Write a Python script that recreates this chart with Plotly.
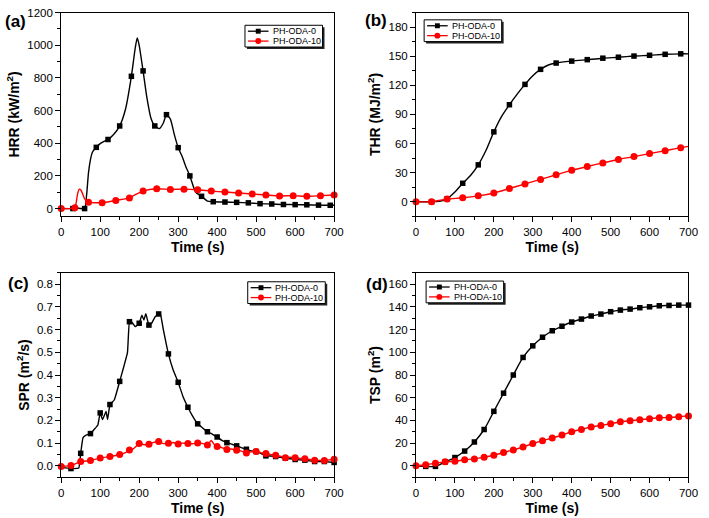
import plotly.graph_objects as go

# ---------------- data ----------------
# (a) Heat release rate, kW/m2
hrr0_t = [0, 30, 45, 60, 65, 70, 75, 80, 90, 100, 110, 120, 135, 150, 165, 180, 190, 195, 200, 210,
          220, 230, 240, 252, 262, 270, 280, 290, 300, 310, 320, 330, 345, 360, 375, 390, 420, 450,
          480, 510, 540, 570, 600, 630, 660, 690, 700]
hrr0_v = [0, 0, 2, 0, 80, 220, 300, 345, 375, 398, 412, 423, 455, 506, 610, 810, 985, 1045, 1000, 843,
          676, 555, 506, 490, 524, 575, 548, 454, 373, 320, 255, 200, 100, 75, 46, 42, 40, 38,
          35, 30, 28, 25, 24, 23, 21, 20, 20]
hrr10_t = [0, 35, 38, 42, 46, 50, 55, 60, 65, 70, 105, 140, 160, 175, 190, 210, 245, 280, 315, 350,
           385, 420, 455, 490, 525, 560, 595, 630, 665, 700]
hrr10_v = [0, 5, 30, 90, 118, 115, 90, 60, 45, 38, 36, 50, 58, 65, 85, 107, 121, 117, 119, 115,
           107, 101, 95, 89, 83, 77, 79, 75, 79, 83]

# (b) Total heat release, MJ/m2
thr0_t = [0, 40, 60, 80, 100, 120, 140, 160, 180, 200, 220, 240, 260, 280, 300, 320, 340, 360, 400,
          440, 480, 520, 560, 600, 640, 680, 700]
thr0_v = [0, 0, 0.5, 3, 10, 19, 27, 38, 53, 72, 88, 100, 111, 121, 130, 136.5, 141, 143, 145,
          146.5, 148, 149, 150.2, 151, 152, 152.5, 152.5]
thr10_t = [0, 40, 80, 120, 160, 200, 240, 280, 320, 360, 400, 440, 480, 520, 560, 600, 640, 680, 700]
thr10_v = [0, 0, 2.7, 4, 6, 9, 13.6, 18.3, 23, 27.8, 32.3, 36.3, 40, 43.5, 46.5, 49.6, 52.6, 55.7, 57]

# (c) Smoke production rate, m2/s
spr0_t = [0, 25, 45, 50, 56, 65, 75, 86, 94, 100, 106, 115, 119, 125, 136, 150, 161, 170, 175, 180,
          190, 200, 207, 212, 217, 225, 232, 241, 250, 255, 262, 275, 287, 300, 312, 325, 337, 350,
          362, 375, 388, 400, 412, 425, 438, 450, 462, 475, 487, 500, 512, 525, 537, 550, 562, 575,
          587, 600, 612, 625, 637, 650, 662, 675, 687, 700]
spr0_v = [-0.007, -0.012, -0.010, 0.055, 0.124, 0.136, 0.142, 0.163, 0.180, 0.233, 0.204, 0.240,
          0.204, 0.270, 0.290, 0.372, 0.440, 0.500, 0.635, 0.635, 0.613, 0.628, 0.664, 0.642, 0.670,
          0.620, 0.628, 0.657, 0.669, 0.664, 0.600, 0.493, 0.423, 0.368, 0.307, 0.258, 0.219, 0.185,
          0.168, 0.150, 0.139, 0.127, 0.112, 0.102, 0.095, 0.088, 0.080, 0.073, 0.066, 0.063, 0.055,
          0.044, 0.043, 0.041, 0.037, 0.034, 0.031, 0.028, 0.026, 0.025, 0.022, 0.019, 0.019, 0.019,
          0.017, 0.015]
spr10_t = [0, 25, 50, 75, 100, 125, 150, 165, 175, 185, 200, 212, 225, 237, 250, 262, 275, 287, 300,
           312, 325, 337, 350, 362, 375, 385, 392, 400, 412, 425, 437, 450, 462, 475, 487, 500, 512,
           525, 537, 550, 562, 575, 587, 600, 612, 625, 637, 650, 662, 675, 687, 700]
spr10_v = [-0.003, 0.001, 0.019, 0.023, 0.034, 0.041, 0.050, 0.058, 0.070, 0.075, 0.098, 0.093,
           0.095, 0.103, 0.107, 0.098, 0.099, 0.103, 0.096, 0.100, 0.098, 0.097, 0.101, 0.099, 0.092,
           0.112, 0.095, 0.085, 0.080, 0.072, 0.074, 0.069, 0.065, 0.057, 0.062, 0.063, 0.058, 0.054,
           0.050, 0.047, 0.042, 0.036, 0.038, 0.036, 0.033, 0.031, 0.028, 0.025, 0.024, 0.023, 0.026,
           0.029]

# (d) Total smoke production, m2
tsp_t = [0, 25, 50, 75, 100, 125, 150, 175, 200, 225, 250, 275, 300, 325, 350, 375, 400, 425, 450,
         475, 500, 525, 550, 575, 600, 625, 650, 675, 700]
tsp0_v = [0, -0.5, -0.5, 3.5, 7.3, 13, 21, 32, 48, 64, 80, 95.5, 105.7, 113.3, 119, 123, 126.7,
          129.3, 132, 133.7, 135.8, 137.2, 138.1, 139.3, 140.1, 141, 141.3, 141.6, 141.6]
tsp10_v = [0, 0.9, 2.3, 3.5, 4.1, 5.3, 6.1, 7.6, 9.3, 11.7, 14, 16.6, 19.6, 22.2, 24.5, 27.2, 30,
           32.1, 34.2, 35.6, 37.1, 38.8, 39.7, 40.6, 41.5, 42.3, 42.6, 43.2, 44]

series_names = ["PH-ODA-0", "PH-ODA-10"]
panel_labels = ["(a)", "(b)", "(c)", "(d)"]
y_titles = ["HRR (kW/m<sup>2</sup>)", "THR (MJ/m<sup>2</sup>)", "SPR (m<sup>2</sup>/s)", "TSP (m<sup>2</sup>)"]
x_title = "Time (s)"

# ---------------- styling / layout ----------------
W, H = 709, 518
FONT = "Arial, 'Liberation Sans', sans-serif"
BLACK = "#000000"
RED = "#ff0000"


def px(x):
    return x / W


def py(y):
    return 1 - y / H


def pick(t, v, step, start):
    mt, mv = [], []
    for a, b in zip(t, v):
        if a >= start and a % step == 0:
            mt.append(a)
            mv.append(b)
    return mt, mv


panels = [
    dict(n="", box=(59.3, 337.3, 6.7, 212.7), yr=[-47, 1200], dt=200, mdt=100, fmt="",
         s0=(hrr0_t, hrr0_v, 30, 30), s1=(hrr10_t, hrr10_v, 35, 0), leg=(246.5, 19.5),
         lab=(13, 16), sm=0.6),
    dict(n="2", box=(420.7, 698.3, 6.7, 212.7), yr=[-15, 195], dt=30, mdt=15, fmt="",
         s0=(thr0_t, thr0_v, 40, 40), s1=(thr10_t, thr10_v, 40, 0), leg=(429, 14),
         lab=(380, 15), sm=0.8),
    dict(n="3", box=(59.3, 337.3, 270, 476.7), yr=[-0.05, 0.85], dt=0.1, mdt=0.05, fmt=".1f",
         s0=(spr0_t, spr0_v, 25, 25), s1=(spr10_t, spr10_v, 25, 0), leg=(249.3, 279),
         lab=(16, 281), sm=0.3),
    dict(n="4", box=(420.7, 698.3, 270, 476.7), yr=[-10, 170], dt=20, mdt=10, fmt="",
         s0=(tsp_t, tsp0_v, 25, 25), s1=(tsp_t, tsp10_v, 25, 0), leg=(431, 278.3),
         lab=(381, 282), sm=0.8),
]

fig = go.Figure()
layout = dict(
    width=W, height=H, margin=dict(l=0, r=0, t=0, b=0),
    paper_bgcolor="white", plot_bgcolor="white",
    font=dict(family=FONT, color=BLACK, size=11),
    showlegend=False,
)
shapes = []
annotations = []

for i, p in enumerate(panels):
    xa = "x" + p["n"]
    ya = "y" + p["n"]
    x0, x1, ytop, ybot = p["box"]
    layout["xaxis" + p["n"]] = dict(
        domain=[px(x0), px(x1)], anchor=ya, range=[0, 700], dtick=100, tick0=0,
        ticks="outside", ticklen=5, tickwidth=1, tickcolor=BLACK,
        minor=dict(dtick=50, ticklen=3, tickwidth=1, tickcolor=BLACK, ticks="outside"),
        showline=True, linecolor=BLACK, linewidth=1, mirror=True,
        showgrid=False, zeroline=False, tickfont=dict(size=11.5),
        title=dict(text="<b>" + x_title + "</b>", font=dict(size=14), standoff=5),
    )
    layout["yaxis" + p["n"]] = dict(
        domain=[py(ybot), py(ytop)], anchor=xa, range=p["yr"], dtick=p["dt"], tick0=0,
        tickformat=p["fmt"],
        ticks="outside", ticklen=5, tickwidth=1, tickcolor=BLACK,
        minor=dict(dtick=p["mdt"], ticklen=3, tickwidth=1, tickcolor=BLACK, ticks="outside"),
        showline=True, linecolor=BLACK, linewidth=1, mirror=True,
        showgrid=False, zeroline=False, tickfont=dict(size=11.5),
        title=dict(text="<b>" + y_titles[i] + "</b>", font=dict(size=14), standoff=4),
    )

    for (t, v, step, start), color, sym, msize in (
        (p["s0"], BLACK, "square", 5.5),
        (p["s1"], RED, "circle", 7),
    ):
        fig.add_trace(go.Scatter(
            x=t, y=v, mode="lines", xaxis=xa, yaxis=ya,
            line=dict(color=color, width=1.4, shape="spline", smoothing=p["sm"]),
            hoverinfo="skip",
        ))
        mt, mv = pick(t, v, step, start)
        fig.add_trace(go.Scatter(
            x=mt, y=mv, mode="markers", xaxis=xa, yaxis=ya, cliponaxis=False,
            marker=dict(color=color, symbol=sym, size=msize, line=dict(width=0)),
        ))

    # panel label
    lx, ly = p["lab"]
    annotations.append(dict(
        text="<b>" + panel_labels[i] + "</b>", x=px(lx), y=py(ly), xref="paper", yref="paper",
        xanchor="center", yanchor="middle", showarrow=False, font=dict(size=17, family=FONT),
    ))

    # legend box (drawn like the original: framed with a drop shadow)
    L, T = p["leg"]
    bw, bh = 79, 22
    shapes.append(dict(type="rect", xref="paper", yref="paper",
                       x0=px(L + 2), x1=px(L + bw + 2), y0=py(T + bh + 2), y1=py(T + 2),
                       fillcolor="#222222", line=dict(width=0), layer="above"))
    shapes.append(dict(type="rect", xref="paper", yref="paper",
                       x0=px(L), x1=px(L + bw), y0=py(T + bh), y1=py(T),
                       fillcolor="white", line=dict(color=BLACK, width=1), layer="above"))
    for k, (color, sym) in enumerate(((BLACK, "square"), (RED, "circle"))):
        ry = T + 6 + k * 10
        shapes.append(dict(type="line", xref="paper", yref="paper",
                           x0=px(L + 3), x1=px(L + 24), y0=py(ry), y1=py(ry),
                           line=dict(color=color, width=1.3), layer="above"))
        cx = L + 13.5
        if sym == "square":
            shapes.append(dict(type="rect", xref="paper", yref="paper",
                               x0=px(cx - 2.5), x1=px(cx + 2.5), y0=py(ry + 2.5), y1=py(ry - 2.5),
                               fillcolor=color, line=dict(width=0), layer="above"))
        else:
            shapes.append(dict(type="circle", xref="paper", yref="paper",
                               x0=px(cx - 3), x1=px(cx + 3), y0=py(ry + 3), y1=py(ry - 3),
                               fillcolor=color, line=dict(width=0), layer="above"))
        annotations.append(dict(
            text=series_names[k], x=px(L + 26), y=py(ry), xref="paper", yref="paper",
            xanchor="left", yanchor="middle", showarrow=False,
            font=dict(size=9, family=FONT),
        ))

layout["shapes"] = shapes
layout["annotations"] = annotations
fig.update_layout(**layout)
fig.write_html(
    "out.html", config={"displayModeBar": False},
    post_script=("document.documentElement.style.margin='0px';"
                 "document.body.style.margin='0px';"
                 "document.documentElement.style.overflow='hidden';"
                 "document.body.style.overflow='hidden';"),
)
